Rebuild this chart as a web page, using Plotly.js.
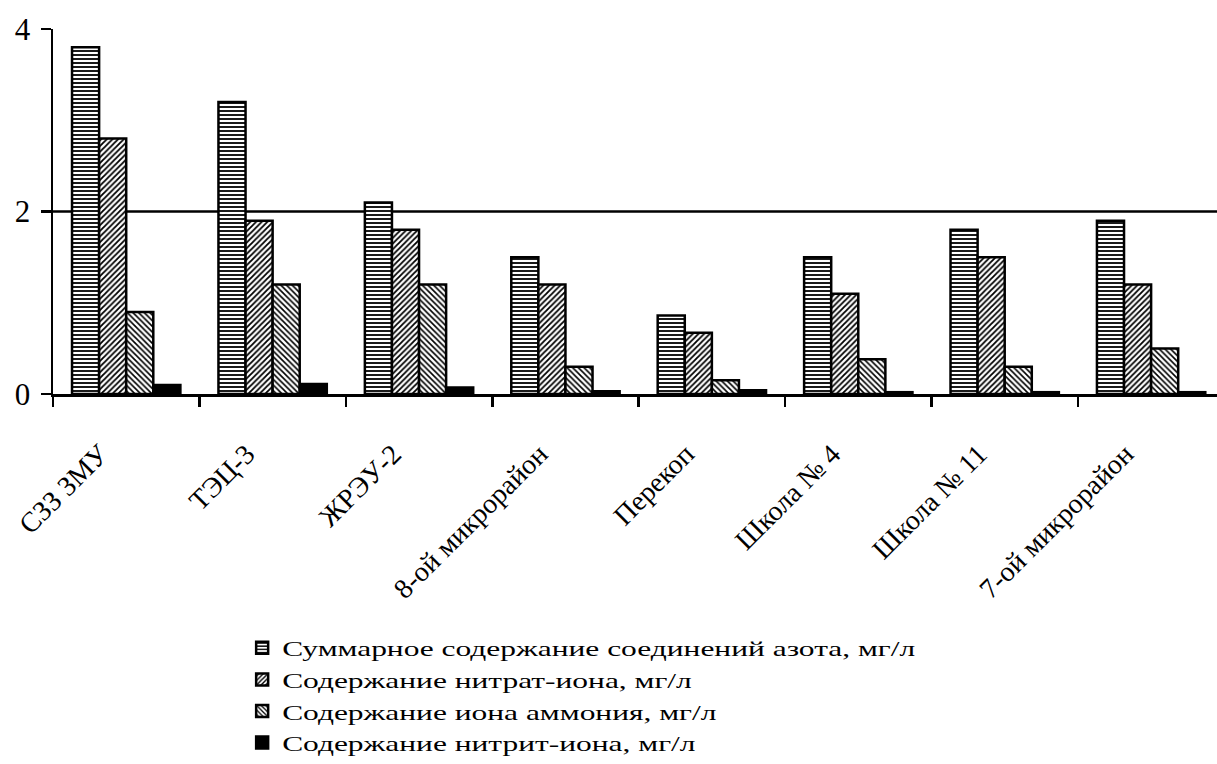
<!DOCTYPE html>
<html>
<head>
<meta charset="utf-8">
<script src="https://cdn.plot.ly/plotly-3.0.1.min.js"></script>
<style>
html,body{margin:0;padding:0;overflow:hidden;background:#fff;}
/* the reference legend text is drawn horizontally widened */
.legendtext{transform:scaleX(1.43);transform-box:fill-box;transform-origin:0% 50%;}
</style>
</head>
<body>
<div id="chart" style="width:1217px;height:764px;"></div>
<script>
const categories = ["СЗЗ ЗМУ", "ТЭЦ-3", "ЖРЭУ-2", "8-ой микрорайон", "Перекоп", "Школа № 4", "Школа № 11", "7-ой микрорайон"];
const seriesNames = [
  "Суммарное содержание соединений азота, мг/л",
  "Содержание нитрат-иона, мг/л",
  "Содержание иона аммония, мг/л",
  "Содержание нитрит-иона, мг/л"
];
const totalN   = [3.8, 3.2, 2.1, 1.5, 0.86, 1.5, 1.8, 1.9];
const nitrate  = [2.8, 1.9, 1.8, 1.2, 0.67, 1.1, 1.5, 1.2];
const ammonium = [0.9, 1.2, 1.2, 0.3, 0.15, 0.38, 0.3, 0.5];
const nitrite  = [0.1, 0.11, 0.07, 0.03, 0.04, 0.02, 0.02, 0.02];
const yTicks = [0, 2, 4];
const threshold = 2;

const font = "Liberation Serif";
const line = {color: "#000", width: 2.5};

function bar(name, y, pattern, color) {
  return {
    type: "bar", name: name, x: categories, y: y,
    marker: {color: color, line: line, pattern: pattern},
    hoverinfo: "skip"
  };
}

const data = [
  bar(seriesNames[0], totalN, {shape: "-", size: 4, solidity: 0.45, fgcolor: "#000", bgcolor: "#fff"}, "#fff"),
  bar(seriesNames[1], nitrate, {shape: "/", size: 4, solidity: 0.45, fgcolor: "#000", bgcolor: "#fff"}, "#fff"),
  bar(seriesNames[2], ammonium, {shape: "\\", size: 4, solidity: 0.4, fgcolor: "#000", bgcolor: "#fff"}, "#fff"),
  bar(seriesNames[3], nitrite, {shape: ""}, "#000")
];

const layout = {
  width: 1217, height: 764, autosize: false,
  margin: {l: 53, r: 0, t: 29, b: 369, pad: 0},
  paper_bgcolor: "#fff", plot_bgcolor: "#fff",
  font: {family: font, size: 28, color: "#000"},
  barmode: "group", bargap: 0.26, bargroupgap: 0,
  showlegend: true,
  legend: {
    x: 0.1625, y: -0.64, xanchor: "left", yanchor: "top",
    font: {family: font, size: 22, color: "#000"},
    bgcolor: "rgba(0,0,0,0)", tracegroupgap: 0
  },
  xaxis: {
    type: "category", range: [-0.5, 7.45],
    showline: true, linecolor: "#000", linewidth: 2.5,
    ticks: "outside", ticklen: 10, tickwidth: 2.5, tickcolor: "#000",
    tickson: "boundaries", tickangle: -45,
    ticklabelstandoff: 30, ticklabelshift: -26,
    tickfont: {family: font, size: 28, color: "#000"},
    showgrid: false, zeroline: false, fixedrange: true
  },
  yaxis: {
    range: [0, 4], tickvals: yTicks, ticktext: yTicks.map(String),
    showline: true, linecolor: "#000", linewidth: 2.5,
    ticks: "outside", ticklen: 10, tickwidth: 2.5, tickcolor: "#000",
    ticklabelstandoff: 4,
    tickfont: {family: font, size: 31, color: "#000"},
    showgrid: false, zeroline: false, fixedrange: true
  },
  shapes: [{
    type: "line", xref: "paper", yref: "y", x0: 0, x1: 1, y0: threshold, y1: threshold,
    line: {color: "#000", width: 2.5}, layer: "below"
  }]
};

Plotly.newPlot("chart", data, layout, {displayModeBar: false, staticPlot: true});
</script>
</body>
</html>
